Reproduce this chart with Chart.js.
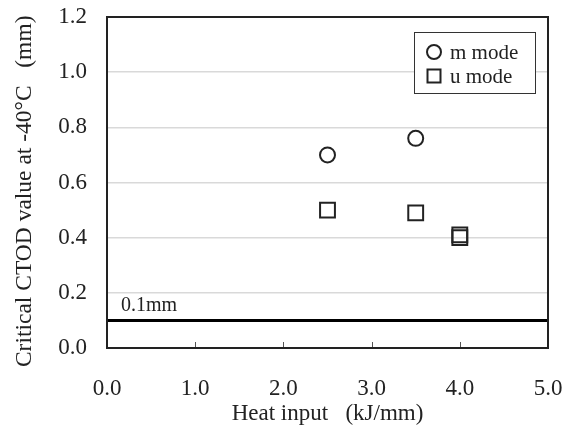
<!DOCTYPE html>
<html>
<head>
<meta charset="utf-8">
<script src="https://cdn.jsdelivr.net/npm/chart.js@4.4.1/dist/chart.umd.min.js"></script>
<style>
  html, body { margin: 0; padding: 0; background: #fff; }
  #wrap { width: 571px; height: 428px; }
</style>
</head>
<body>
<div id="wrap"><canvas id="ctod"></canvas></div>
<script>
// heat input (kJ/mm) and critical CTOD at -40°C (mm)
const mHeat = [2.5, 3.5];
const mCtod = [0.70, 0.76];
const uHeat = [2.5, 3.5, 4.0, 4.0];
const uCtod = [0.50, 0.49, 0.40, 0.41];
const limitX = [0, 5];
const limitY = [0.1, 0.1];
const limitLabel = '0.1mm';

const serif = 'Liberation Serif, Times New Roman, serif';
const ink = '#222';

const toPts = (xs, ys) => xs.map((x, i) => ({ x, y: ys[i] }));

// frame, inward x ticks, 0.1mm label and boxed legend
const extras = {
  id: 'extras',
  afterDatasetsDraw(chart) {
    const { ctx, chartArea: a, scales } = chart;
    ctx.save();
    // inward tick marks on the x axis
    ctx.strokeStyle = '#555';
    ctx.lineWidth = 1;
    [1, 2, 3, 4].forEach((v) => {
      const px = Math.round(scales.x.getPixelForValue(v)) + 0.5;
      ctx.beginPath();
      ctx.moveTo(px, a.bottom);
      ctx.lineTo(px, a.bottom - 6);
      ctx.stroke();
    });
    // frame
    ctx.strokeStyle = ink;
    ctx.lineWidth = 2;
    ctx.strokeRect(a.left, a.top, a.right - a.left, a.bottom - a.top);

    // label over the limit line
    ctx.fillStyle = ink;
    ctx.font = '20px ' + serif;
    ctx.textAlign = 'left';
    ctx.textBaseline = 'alphabetic';
    ctx.fillText(limitLabel, a.left + 14, scales.y.getPixelForValue(0.1) - 9);

    // legend box
    const bx = a.right - 134, by = a.top + 15, bw = 121, bh = 61;
    ctx.fillStyle = '#fff';
    ctx.fillRect(bx, by, bw, bh);
    ctx.strokeStyle = '#333';
    ctx.lineWidth = 1;
    ctx.strokeRect(bx + 0.5, by + 0.5, bw, bh);
    const items = chart.data.datasets.filter((d) => d.label);
    items.forEach((d, i) => {
      const cx = bx + 20, cy = by + 20 + i * 24;
      ctx.strokeStyle = ink;
      ctx.lineWidth = 2;
      ctx.beginPath();
      if (d.pointStyle === 'rect') {
        ctx.rect(cx - 6.5, cy - 6.5, 13, 13);
      } else {
        ctx.arc(cx, cy, 7, 0, Math.PI * 2);
      }
      ctx.stroke();
      ctx.fillStyle = ink;
      ctx.font = '21px ' + serif;
      ctx.textBaseline = 'middle';
      ctx.fillText(d.label, cx + 16, cy + 1);
    });
    ctx.restore();
  }
};

new Chart(document.getElementById('ctod'), {
  type: 'scatter',
  data: {
    datasets: [
      {
        label: 'm mode',
        data: toPts(mHeat, mCtod),
        pointStyle: 'circle',
        pointRadius: 7.5,
        pointBorderWidth: 2,
        borderColor: ink,
        backgroundColor: 'rgba(255,255,255,0)',
      },
      {
        label: 'u mode',
        data: toPts(uHeat, uCtod),
        pointStyle: 'rect',
        pointRadius: 10.5,
        pointBorderWidth: 2,
        borderColor: ink,
        backgroundColor: 'rgba(255,255,255,0)',
      },
      {
        label: '',
        type: 'line',
        data: toPts(limitX, limitY),
        borderColor: '#000',
        borderWidth: 3,
        pointRadius: 0,
        showLine: true,
      },
    ],
  },
  options: {
    responsive: true,
    maintainAspectRatio: false,
    animation: false,
    layout: { padding: 0 },
    plugins: {
      legend: { display: false },
      tooltip: { enabled: false },
    },
    scales: {
      x: {
        type: 'linear',
        min: 0,
        max: 5,
        afterFit: (s) => {
          s.height = 80;
          s.paddingLeft = 0;
          s.paddingRight = 23;
        },
        grid: { display: false },
        border: { display: false },
        ticks: {
          stepSize: 1,
          padding: 19,
          color: ink,
          font: { family: serif, size: 23 },
          callback: (v) => v.toFixed(1),
        },
        title: {
          display: true,
          text: 'Heat input   (kJ/mm)',
          color: ink,
          font: { family: serif, size: 23 },
          padding: { top: 0, bottom: 0 },
        },
      },
      y: {
        min: 0,
        max: 1.2,
        afterFit: (s) => {
          s.width = 107;
          s.paddingTop = 17;
          s.paddingBottom = 0;
        },
        grid: { color: '#d9d9d9', lineWidth: 1.5, drawTicks: false },
        border: { display: false },
        ticks: {
          stepSize: 0.2,
          padding: 20,
          color: ink,
          font: { family: serif, size: 23 },
          callback: (v) => v.toFixed(1),
        },
        title: {
          display: true,
          // trailing spaces nudge the rotated text down a little
          text: 'Critical CTOD value at -40°C   (mm)   ',
          color: ink,
          font: { family: serif, size: 23.5 },
          padding: { top: 11, bottom: 0 },
        },
      },
    },
  },
  plugins: [extras],
});
</script>
</body>
</html>
